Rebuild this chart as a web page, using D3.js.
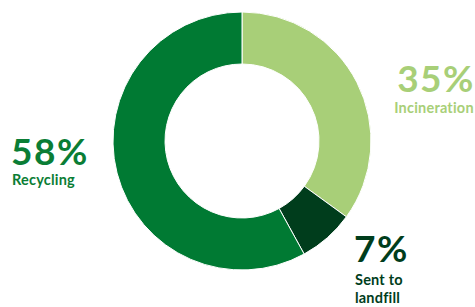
<!DOCTYPE html>
<html>
<head>
<meta charset="utf-8">
<script src="https://cdn.jsdelivr.net/npm/d3@7"></script>
<style>
  body { margin: 0; background: #fff; }
  svg text { font-family: Lato, "Open Sans", sans-serif; font-weight: bold; }
</style>
</head>
<body>
<div id="chart"></div>
<script>
// data
var categories = ["Incineration", "Sent to landfill", "Recycling"];
var shares = [35, 7, 58];
var colours = ["#a8cf78", "#003d1c", "#007a33"];
var labelColours = ["#a8cf78", "#003d1c", "#0a7d35"];

var width = 475, height = 307;
var cx = 242, cy = 141;
var outerR = 129, innerR = 77;

var svg = d3.select("#chart").append("svg")
  .attr("width", width)
  .attr("height", height);

var g = svg.append("g")
  .attr("transform", "translate(" + cx + "," + cy + ")");

var pie = d3.pie().sort(null).value(function(d) { return d; });
var arc = d3.arc().innerRadius(innerR).outerRadius(outerR);

var slices = pie(shares);

g.selectAll("path.slice")
  .data(slices)
  .enter()
  .append("path")
  .classed("slice", true)
  .attr("d", arc)
  .attr("fill", function(d, i) { return colours[i]; })
  .attr("stroke", "#fff")
  .attr("stroke-width", 1);

// labels: big percentage plus category name underneath
var labels = [
  { x: 436, y: 92, anchor: "middle", lines: ["Incineration"], ly: [113] },
  { x: 354, y: 262, anchor: "start", lines: ["Sent to", "landfill"], ly: [285, 303] },
  { x: 11, y: 165, anchor: "start", lines: ["Recycling"], ly: [185] }
];

labels.forEach(function(l, i) {
  var t = svg.append("g");
  t.append("text")
    .attr("x", l.x)
    .attr("y", l.y)
    .attr("text-anchor", l.anchor)
    .attr("font-size", "37px")
    .attr("letter-spacing", "1.5px")
    .attr("fill", labelColours[i])
    .text(shares[i] + "%");
  l.lines.forEach(function(line, j) {
    t.append("text")
      .attr("x", l.anchor === "middle" ? l.x - 2 : l.x + 1)
      .attr("y", l.ly[j])
      .attr("text-anchor", l.anchor)
      .attr("font-size", "14.5px")
      .attr("letter-spacing", "0.2px")
      .attr("fill", labelColours[i])
      .text(line);
  });
});
</script>
</body>
</html>
